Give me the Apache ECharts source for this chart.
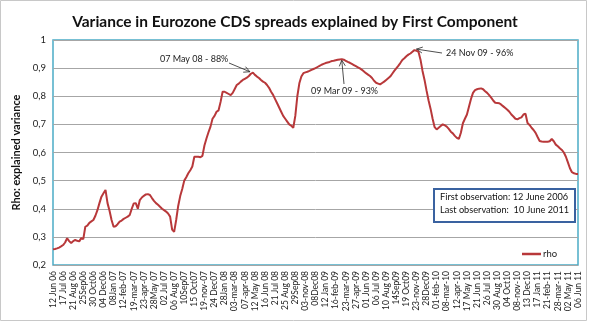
<!DOCTYPE html>
<html>
<head>
<meta charset="utf-8">
<script src="https://cdn.jsdelivr.net/npm/echarts@6/dist/echarts.min.js"></script>
<style>html,body{margin:0;padding:0;background:#fff}#c{width:590px;height:325px}</style>
</head>
<body>
<div id="c"></div>
<script>
// Tick labels (every 5 weeks)
const tickLabels = ['12 Jun 06','17 Jul 06','21 Aug 06','25Sep06','30 Oct06','04 Dec06','08Jan 07','12-feb-07','19-mar-07','23-apr-07','28May 07','02 Jul 07','06 Aug 07','10Sep07','15 Oct07','19-nov-07','24 Dec07','28Jan 08','03-mar-08','07-apr-08','12 May 08','16 Jun 08','21 Jul 08','25 Aug 08','29Sep08','03-nov-08','08Dec08','12 Jan 09','16-feb-09','23-mar-09','27-apr-09','01 Jun 09','06 Jul 09','10 Aug 09','14Sep09','19 Oct09','23-nov-09','28Dec09','01-feb-10','08-mar-10','12-apr-10','17 May 10','21 Jun 10','26 Jul 10','30 Aug 10','04 Oct10','08-nov-10','13 Dec10','17 Jan 11','21-feb-11','28-mar-11','02 May 11','06 Jun 11'];

// Weekly rho values (explained variance)
const rho = [
0.256,0.257,0.259,0.262,0.266,
0.271,0.280,0.295,0.285,0.278,
0.285,0.289,0.286,0.284,0.296,
0.292,0.336,0.340,0.350,0.355,
0.360,0.375,0.395,0.420,0.443,
0.455,0.467,0.420,0.393,0.360,
0.336,0.338,0.345,0.354,0.358,
0.364,0.368,0.372,0.378,0.400,
0.419,0.420,0.400,0.431,0.440,
0.446,0.451,0.452,0.449,0.438,
0.428,0.420,0.414,0.407,0.400,
0.395,0.390,0.383,0.372,0.326,
0.318,0.360,0.410,0.445,0.470,
0.500,0.512,0.526,0.537,0.550,
0.585,0.585,0.585,0.583,0.588,
0.625,0.650,0.672,0.692,0.720,
0.730,0.745,0.750,0.780,0.816,
0.816,0.812,0.808,0.804,0.812,
0.826,0.840,0.845,0.852,0.858,
0.862,0.866,0.872,0.880,0.884,
0.876,0.870,0.865,0.858,0.852,
0.848,0.840,0.830,0.816,0.805,
0.790,0.775,0.760,0.745,0.730,
0.720,0.710,0.700,0.695,0.688,
0.730,0.800,0.846,0.870,0.882,
0.885,0.887,0.890,0.894,0.897,
0.900,0.904,0.908,0.912,0.915,
0.918,0.920,0.922,0.925,0.926,
0.928,0.930,0.931,0.932,0.930,
0.926,0.922,0.919,0.915,0.911,
0.907,0.903,0.899,0.894,0.888,
0.882,0.877,0.872,0.865,0.855,
0.848,0.845,0.842,0.847,0.852,
0.858,0.864,0.870,0.880,0.890,
0.899,0.908,0.918,0.929,0.935,
0.942,0.948,0.952,0.958,0.964,
0.962,0.958,0.930,0.890,0.858,
0.820,0.785,0.755,0.720,0.690,
0.682,0.688,0.694,0.700,0.697,
0.692,0.684,0.674,0.668,0.659,
0.652,0.648,0.670,0.704,0.720,
0.735,0.763,0.790,0.812,0.822,
0.825,0.827,0.828,0.825,0.818,
0.812,0.804,0.795,0.785,0.777,
0.776,0.775,0.770,0.764,0.758,
0.752,0.745,0.735,0.728,0.720,
0.718,0.722,0.725,0.735,0.738,
0.705,0.698,0.688,0.680,0.670,
0.655,0.641,0.639,0.638,0.638,
0.638,0.640,0.648,0.640,0.628,
0.622,0.615,0.609,0.600,0.585,
0.565,0.544,0.530,0.526,0.524,
0.524
];

// Annotated peaks: week index and label
const peakWeeks = [98, 143, 179];
const peakTexts = ['07 May 08 - 88%', '09 Mar 09 - 93%', '24 Nov 09 - 96%'];
const infoLines = ['First observation: 12 June 2006', 'Last observation:  10 June 2011'];

// Build weekly categories (tick label at each 5th week)
const categories = rho.map((v, i) => i % 5 === 0 ? tickLabels[i / 5] : tickLabels[Math.floor(i / 5)] + ' +' + (i % 5) + 'w');

const FONT = 'Lato, "Open Sans", sans-serif';
const chart = echarts.init(document.getElementById('c'), null, {renderer: 'canvas'});

const option = {
  animation: false,
  backgroundColor: '#fff',
  title: {
    text: 'Variance in Eurozone CDS spreads explained by First Component',
    left: 'center', top: 9,
    textStyle: {fontFamily: FONT, fontSize: 15.5, fontWeight: 'bold', color: '#111'}
  },
  grid: {
    left: 53, right: 12, top: 40, bottom: 60,
    show: true, borderColor: '#4BACC6', borderWidth: 1.5, backgroundColor: '#fff'
  },
  legend: {
    data: ['rho'], left: 517, top: 244,
    icon: 'rect', itemWidth: 19, itemHeight: 2.5, itemGap: 2,
    textStyle: {fontFamily: FONT, fontSize: 9.5, color: '#222', padding: [0,0,0,-3]}
  },
  xAxis: {
    type: 'category', data: categories, boundaryGap: false,
    axisLine: {show: false}, axisTick: {show: false},
    axisLabel: {interval: 4, rotate: 90, fontFamily: FONT, fontSize: 8.5, color: '#222', margin: 6},
    splitLine: {show: false}
  },
  yAxis: {
    type: 'value', min: 0.2, max: 1, interval: 0.1,
    name: 'Rho: explained variance', nameLocation: 'middle', nameRotate: 90, nameGap: 30,
    nameTextStyle: {fontFamily: FONT, fontSize: 11, fontWeight: 'bold', color: '#111'},
    axisLine: {show: false}, axisTick: {show: false},
    axisLabel: {fontFamily: FONT, fontSize: 9.5, color: '#222', margin: 7,
      formatter: v => String(Math.round(v * 10) / 10).replace('.', ',')},
    splitLine: {lineStyle: {color: '#a6a6a6', width: 1}}
  },
  series: [{
    name: 'rho', type: 'line', data: rho, showSymbol: false, symbol: 'none',
    lineStyle: {color: '#B8383A', width: 2}, itemStyle: {color: '#B8383A'}
  }]
};
chart.setOption(option);

// Annotations built from data positions
function arrow(from, tip) {
  const dx = tip[0] - from[0], dy = tip[1] - from[1];
  const len = Math.hypot(dx, dy), ux = dx / len, uy = dy / len;
  const L = 6, W = 3;
  const b = [tip[0] - ux * L, tip[1] - uy * L];
  return [
    {type: 'line', shape: {x1: from[0], y1: from[1], x2: tip[0], y2: tip[1]}, style: {stroke: '#222', lineWidth: 0.8}},
    {type: 'polyline', shape: {points: [[b[0] - uy * W, b[1] + ux * W], tip, [b[0] + uy * W, b[1] - ux * W]]}, style: {stroke: '#222', lineWidth: 0.8, fill: null}}
  ];
}
const P = peakWeeks.map(w => chart.convertToPixel({xAxisIndex: 0, yAxisIndex: 0}, [w, rho[w]]));
const g = [];
// outer frame
g.push({type: 'rect', shape: {x: 0.5, y: 0.5, width: 586, height: 320}, style: {stroke: '#c8c8c8', fill: null, lineWidth: 1}, z: -1});
// annotation 1
g.push({type: 'text', left: 160, top: 55, style: {text: peakTexts[0], font: '9px ' + FONT, fill: '#222'}});
g.push(...arrow([229, 63], [P[0][0] - 1, P[0][1] - 2]));
// annotation 2
g.push({type: 'text', left: 311, top: 87, style: {text: peakTexts[1], font: '9px ' + FONT, fill: '#222'}});
g.push(...arrow([344, 84], [P[1][0], P[1][1] + 1]));
// annotation 3
g.push({type: 'text', left: 446, top: 49, style: {text: peakTexts[2], font: '9px ' + FONT, fill: '#222'}});
g.push(...arrow([442, 53], [P[2][0] + 2, P[2][1] - 1]));
// info box
g.push({type: 'rect', shape: {x: 434, y: 189, width: 141, height: 33}, style: {stroke: '#3A62A0', lineWidth: 2, fill: '#fff'}, z: 10});
g.push({type: 'text', left: 440, top: 193, z: 11, style: {text: infoLines[0], font: '9.2px ' + FONT, fill: '#111'}});
g.push({type: 'text', left: 440, top: 206, z: 11, style: {text: infoLines[1], font: '9.2px ' + FONT, fill: '#111'}});
chart.setOption({graphic: g});
</script>
</body>
</html>
